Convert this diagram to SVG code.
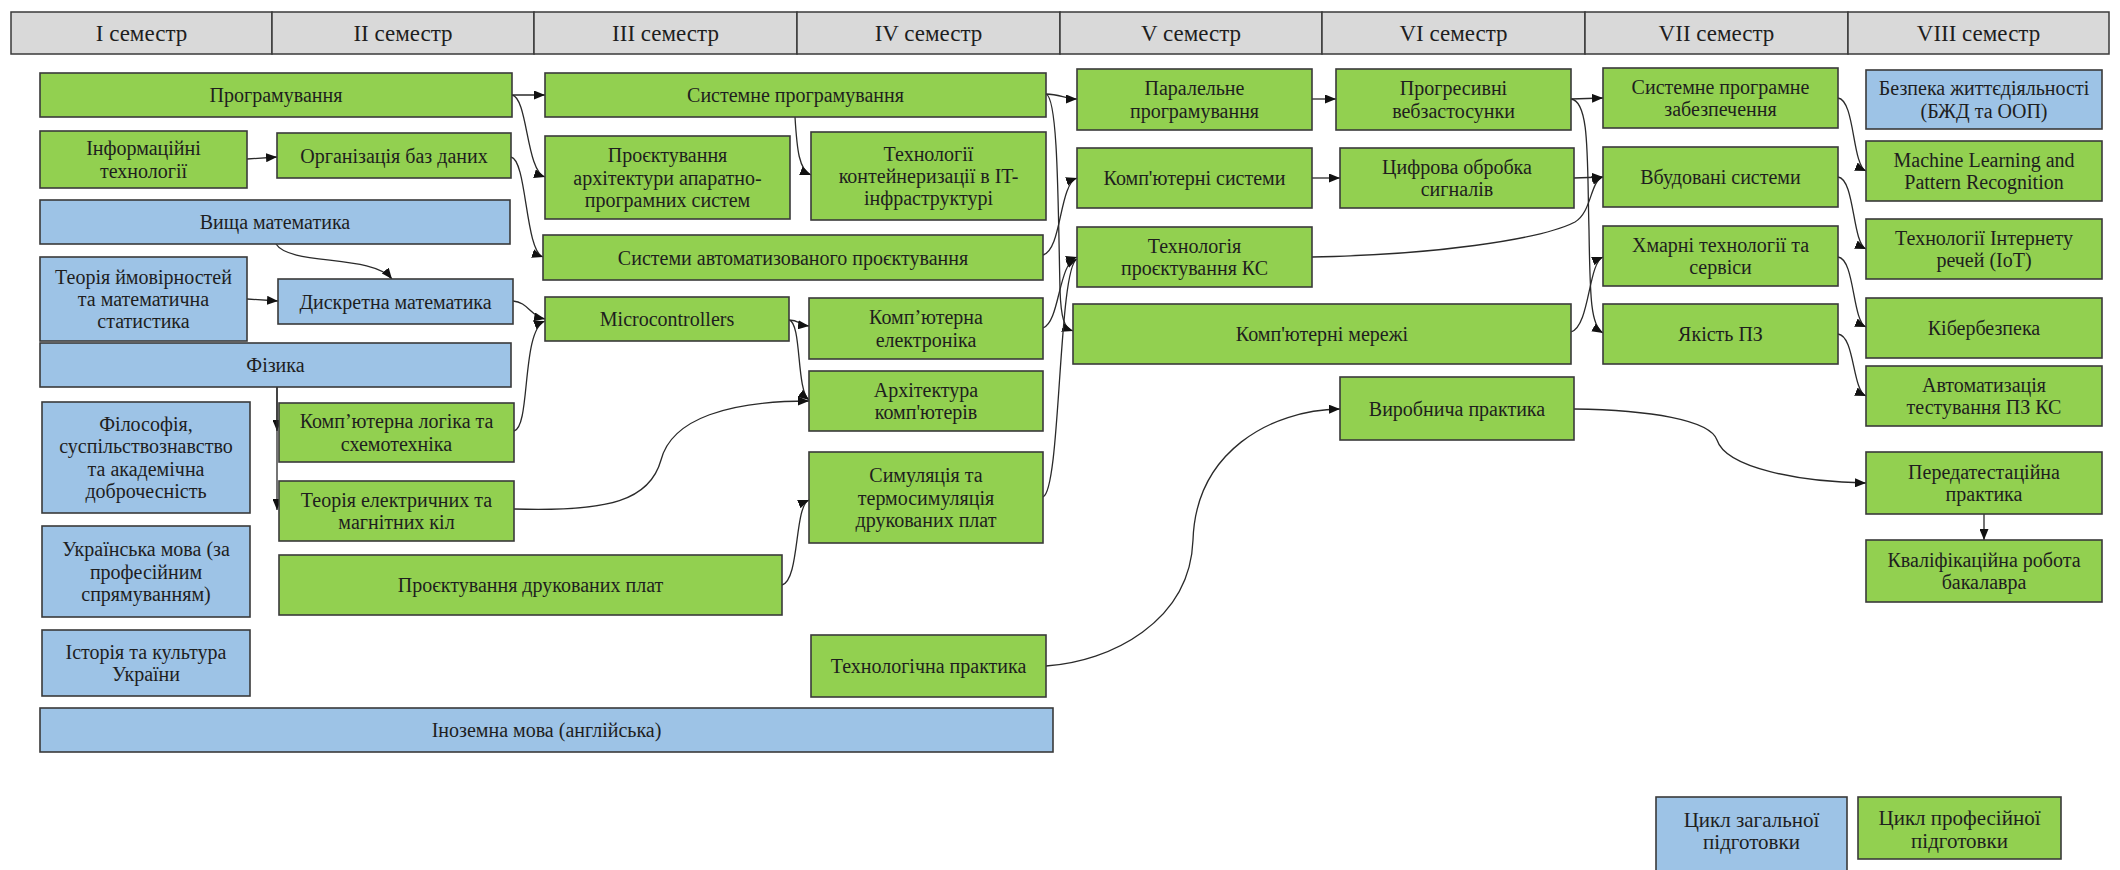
<svg xmlns="http://www.w3.org/2000/svg" width="2120" height="870" viewBox="0 0 2120 870">
<defs>
<style>
.hd{fill:#d9d9d9;stroke:#3a3a3a;stroke-width:1.5}
.g{fill:#92d050;stroke:#3a3a3a;stroke-width:1.6}
.b{fill:#9dc3e6;stroke:#3a3a3a;stroke-width:1.6}
text{font-family:"Liberation Serif","Times New Roman",serif;font-size:20px;fill:#1e1e1e;text-anchor:middle}
.ht{font-size:23px}
.lt{font-size:21px}
.c{fill:none;stroke:#2a2a2a;stroke-width:1.3;marker-end:url(#arr)}
</style>
<marker id="arr" markerWidth="11" markerHeight="9" refX="11" refY="4.5" orient="auto" markerUnits="userSpaceOnUse">
<path d="M0,0 L11,4.5 L0,9 z" fill="#111"/>
</marker>
</defs>
<rect width="2120" height="870" fill="#ffffff"/>

<g id="header">
<rect class="hd" x="11" y="12" width="261" height="42"/><text class="ht" x="141.5" y="41">I семестр</text>
<rect class="hd" x="272" y="12" width="262" height="42"/><text class="ht" x="403" y="41">II семестр</text>
<rect class="hd" x="534" y="12" width="263" height="42"/><text class="ht" x="665.5" y="41">III семестр</text>
<rect class="hd" x="797" y="12" width="263" height="42"/><text class="ht" x="928.5" y="41">IV семестр</text>
<rect class="hd" x="1060" y="12" width="262" height="42"/><text class="ht" x="1191" y="41">V семестр</text>
<rect class="hd" x="1322" y="12" width="263" height="42"/><text class="ht" x="1453.5" y="41">VI семестр</text>
<rect class="hd" x="1585" y="12" width="263" height="42"/><text class="ht" x="1716.5" y="41">VII семестр</text>
<rect class="hd" x="1848" y="12" width="261" height="42"/><text class="ht" x="1978.5" y="41">VIII семестр</text>
</g>

<g id="connectors">
<path class="c" d="M512,95 L545,95"/>
<path class="c" d="M512,95 C528,98 526,171 545,177"/>
<path class="c" d="M511,157 C527,160 525,251 543,257"/>
<path class="c" d="M513,301 C528,302 530,316 545,319"/>
<path class="c" d="M514,431 C531,427 521,330 545,321"/>
<path class="c" d="M276,244 C290,266 372,254 392,279"/>
<path class="c" d="M247,159 L277,157"/>
<path class="c" d="M247,299 L278,301"/>
<path class="c" d="M277,387 L277,431"/>
<path class="c" d="M277,387 L277,510"/>
<path class="c" d="M514,509 C610,512 650,500 661,460 C672,418 730,401 809,401"/>
<path class="c" d="M789,320 C799,320 800,325 809,326"/>
<path class="c" d="M789,320 C802,323 796,390 809,400"/>
<path class="c" d="M782,585 C800,580 794,506 809,500"/>
<path class="c" d="M795,117 C797,150 799,170 811,175"/>
<path class="c" d="M1046,94 C1060,94 1065,99 1077,99"/>
<path class="c" d="M1046,94 C1058,98 1058,200 1060,290 C1061,318 1064,328 1073,331"/>
<path class="c" d="M1043,255 C1062,250 1059,184 1077,178"/>
<path class="c" d="M1043,328 C1060,322 1058,263 1077,257"/>
<path class="c" d="M1043,497 C1061,490 1058,268 1077,259"/>
<path class="c" d="M1312,99 L1336,99"/>
<path class="c" d="M1312,178 L1340,178"/>
<path class="c" d="M1312,257 C1430,255 1540,240 1575,222 C1592,212 1590,181 1603,177"/>
<path class="c" d="M1571,99 L1603,98"/>
<path class="c" d="M1571,99 C1590,101 1587,160 1589,230 C1590,300 1591,326 1603,333"/>
<path class="c" d="M1574,178 L1603,177"/>
<path class="c" d="M1571,332 C1590,326 1588,263 1603,257"/>
<path class="c" d="M1838,98 C1855,100 1852,165 1866,171"/>
<path class="c" d="M1838,177 C1855,179 1852,243 1866,249"/>
<path class="c" d="M1838,257 C1855,259 1852,321 1866,327"/>
<path class="c" d="M1838,334 C1855,336 1852,390 1866,396"/>
<path class="c" d="M1574,409 C1650,410 1710,420 1717,440 C1726,468 1800,482 1866,483"/>
<path class="c" d="M1046,666 C1110,662 1190,622 1193,540 C1196,452 1270,410 1340,409"/>
<path class="c" d="M1984,514 L1984,540"/>
</g>

<g id="n1"><rect class="g" x="40" y="73" width="472" height="44"/><text x="276" y="102">Програмування</text></g>
<g id="n2"><rect class="g" x="40" y="131" width="207" height="57"/><text x="143.5" y="155.3">Інформаційні</text><text x="143.5" y="177.7">технології</text></g>
<g id="n3"><rect class="g" x="277" y="133" width="234" height="45"/><text x="394" y="162.5">Організація баз даних</text></g>
<g id="n4"><rect class="b" x="40" y="200" width="470" height="44"/><text x="275" y="229">Вища математика</text></g>
<g id="n5"><rect class="b" x="40" y="257" width="207" height="84"/><text x="143.5" y="283.6">Теорія ймовірностей</text><text x="143.5" y="306">та математична</text><text x="143.5" y="328.4">статистика</text></g>
<g id="n6"><rect class="b" x="278" y="279" width="235" height="45"/><text x="395.5" y="308.5">Дискретна математика</text></g>
<g id="n7"><rect class="b" x="40" y="343" width="471" height="44"/><text x="275.5" y="372">Фізика</text></g>
<g id="n8"><rect class="b" x="42" y="402" width="208" height="111"/><text x="146" y="430.9">Філософія,</text><text x="146" y="453.3">суспільствознавство</text><text x="146" y="475.7">та академічна</text><text x="146" y="498.1">доброчесність</text></g>
<g id="n9"><rect class="g" x="279" y="403" width="235" height="59"/><text x="396.5" y="428.3">Комп’ютерна логіка та</text><text x="396.5" y="450.7">схемотехніка</text></g>
<g id="n10"><rect class="g" x="279" y="481" width="235" height="60"/><text x="396.5" y="506.8">Теорія електричних та</text><text x="396.5" y="529.2">магнітних кіл</text></g>
<g id="n11"><rect class="b" x="42" y="526" width="208" height="91"/><text x="146" y="556.1">Українська мова (за</text><text x="146" y="578.5">професійним</text><text x="146" y="600.9">спрямуванням)</text></g>
<g id="n12"><rect class="g" x="279" y="555" width="503" height="60"/><text x="530.5" y="592">Проєктування друкованих плат</text></g>
<g id="n13"><rect class="b" x="42" y="630" width="208" height="66"/><text x="146" y="658.8">Історія та культура</text><text x="146" y="681.2">України</text></g>
<g id="n14"><rect class="b" x="40" y="708" width="1013" height="44"/><text x="546.5" y="737">Іноземна мова (англійська)</text></g>
<g id="n15"><rect class="g" x="545" y="73" width="501" height="44"/><text x="795.5" y="102">Системне програмування</text></g>
<g id="n16"><rect class="g" x="545" y="136" width="245" height="83"/><text x="667.5" y="162.1">Проєктування</text><text x="667.5" y="184.5">архітектури апаратно-</text><text x="667.5" y="206.9">програмних систем</text></g>
<g id="n17"><rect class="g" x="811" y="132" width="235" height="88"/><text x="928.5" y="160.6">Технології</text><text x="928.5" y="183">контейнеризації в IT-</text><text x="928.5" y="205.4">інфраструктурі</text></g>
<g id="n18"><rect class="g" x="543" y="235" width="500" height="45"/><text x="793" y="264.5">Системи автоматизованого проєктування</text></g>
<g id="n19"><rect class="g" x="545" y="297" width="244" height="44"/><text x="667" y="326">Microcontrollers</text></g>
<g id="n20"><rect class="g" x="809" y="298" width="234" height="61"/><text x="926" y="324.3">Комп’ютерна</text><text x="926" y="346.7">електроніка</text></g>
<g id="n21"><rect class="g" x="809" y="371" width="234" height="60"/><text x="926" y="396.8">Архітектура</text><text x="926" y="419.2">комп'ютерів</text></g>
<g id="n22"><rect class="g" x="809" y="452" width="234" height="91"/><text x="926" y="482.1">Симуляція та</text><text x="926" y="504.5">термосимуляція</text><text x="926" y="526.9">друкованих плат</text></g>
<g id="n23"><rect class="g" x="811" y="635" width="235" height="62"/><text x="928.5" y="673">Технологічна практика</text></g>
<g id="n24"><rect class="g" x="1077" y="69" width="235" height="61"/><text x="1194.5" y="95.3">Паралельне</text><text x="1194.5" y="117.7">програмування</text></g>
<g id="n25"><rect class="g" x="1336" y="69" width="235" height="61"/><text x="1453.5" y="95.3">Прогресивні</text><text x="1453.5" y="117.7">вебзастосунки</text></g>
<g id="n26"><rect class="g" x="1077" y="148" width="235" height="60"/><text x="1194.5" y="185">Комп'ютерні системи</text></g>
<g id="n27"><rect class="g" x="1340" y="148" width="234" height="60"/><text x="1457" y="173.8">Цифрова обробка</text><text x="1457" y="196.2">сигналів</text></g>
<g id="n28"><rect class="g" x="1077" y="227" width="235" height="60"/><text x="1194.5" y="252.8">Технологія</text><text x="1194.5" y="275.2">проєктування КС</text></g>
<g id="n29"><rect class="g" x="1073" y="304" width="498" height="60"/><text x="1322" y="341">Комп'ютерні мережі</text></g>
<g id="n30"><rect class="g" x="1340" y="377" width="234" height="63"/><text x="1457" y="415.5">Виробнича практика</text></g>
<g id="n31"><rect class="g" x="1603" y="68" width="235" height="60"/><text x="1720.5" y="93.8">Системне програмне</text><text x="1720.5" y="116.2">забезпечення</text></g>
<g id="n32"><rect class="g" x="1603" y="147" width="235" height="60"/><text x="1720.5" y="184">Вбудовані системи</text></g>
<g id="n33"><rect class="g" x="1603" y="226" width="235" height="60"/><text x="1720.5" y="251.8">Хмарні технології та</text><text x="1720.5" y="274.2">сервіси</text></g>
<g id="n34"><rect class="g" x="1603" y="304" width="235" height="60"/><text x="1720.5" y="341">Якість ПЗ</text></g>
<g id="n35"><rect class="b" x="1866" y="70" width="236" height="59"/><text x="1984" y="95.3">Безпека життєдіяльності</text><text x="1984" y="117.7">(БЖД та ООП)</text></g>
<g id="n36"><rect class="g" x="1866" y="141" width="236" height="60"/><text x="1984" y="166.8">Machine Learning and</text><text x="1984" y="189.2">Pattern Recognition</text></g>
<g id="n37"><rect class="g" x="1866" y="219" width="236" height="60"/><text x="1984" y="244.8">Технології Інтернету</text><text x="1984" y="267.2">речей (IoT)</text></g>
<g id="n38"><rect class="g" x="1866" y="298" width="236" height="60"/><text x="1984" y="335">Кібербезпека</text></g>
<g id="n39"><rect class="g" x="1866" y="366" width="236" height="60"/><text x="1984" y="391.8">Автоматизація</text><text x="1984" y="414.2">тестування ПЗ КС</text></g>
<g id="n40"><rect class="g" x="1866" y="452" width="236" height="62"/><text x="1984" y="478.8">Передатестаційна</text><text x="1984" y="501.2">практика</text></g>
<g id="n41"><rect class="g" x="1866" y="540" width="236" height="62"/><text x="1984" y="566.8">Кваліфікаційна робота</text><text x="1984" y="589.2">бакалавра</text></g>

<g id="legend-general"><rect class="b" x="1656" y="797" width="191" height="80"/><text class="lt" x="1751.5" y="827">Цикл загальної</text><text class="lt" x="1751.5" y="849">підготовки</text></g>
<g id="legend-professional"><rect class="g" x="1858" y="797" width="203" height="62"/><text class="lt" x="1959.5" y="825">Цикл професійної</text><text class="lt" x="1959.5" y="848">підготовки</text></g>
</svg>
